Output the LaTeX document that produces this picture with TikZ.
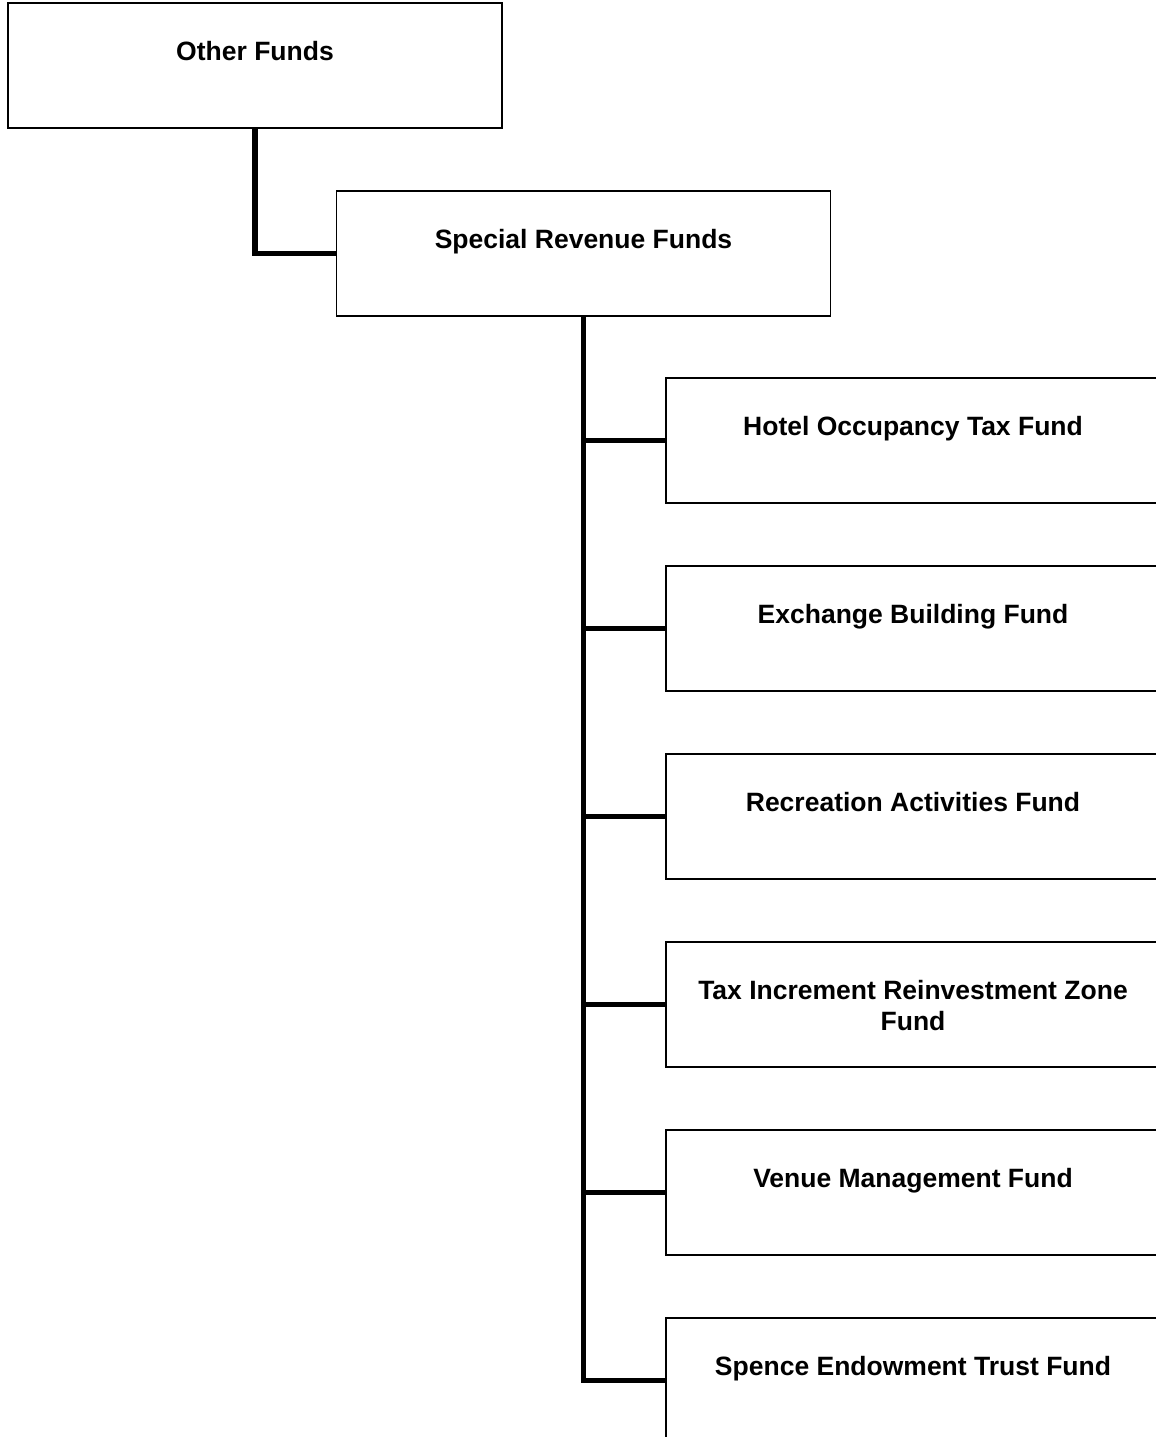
\documentclass[tikz,border=0pt]{standalone}
\usepackage{fontspec}
\setmainfont{Liberation Sans}
\begin{document}
\begin{tikzpicture}[x=1pt,y=-1pt,
  box/.style={draw=black,line width=1.8pt,fill=white,minimum width=494pt,minimum height=125pt,inner sep=0pt},
  lbl/.style={font=\fontsize{26.5}{31.5}\selectfont\bfseries,align=center,inner sep=0pt,anchor=base},
  conn/.style={line width=5.5pt,line cap=butt,line join=miter}]
\useasboundingbox (0,0) rectangle (1156,1437);
\clip (0,0) rectangle (1156,1437);
\fill[white] (0,0) rectangle (1156,1437);
\node[box] (of) at (255,65.5) {};
\node[box] (srf) at (583.5,253.5) {};
\node[box] (c1) at (913,440.5) {};
\node[box] (c2) at (913,628.5) {};
\node[box] (c3) at (913,816.5) {};
\node[box] (c4) at (913,1004.5) {};
\node[box] (c5) at (913,1192.5) {};
\node[box] (c6) at (913,1380.5) {};
\draw[conn] (of.south) |- (srf.west);
\draw[conn] (srf.south) |- (c6.west);
\foreach \c in {c1,c2,c3,c4,c5}{
  \draw[conn] (srf.south |- \c.west) -- (\c.west);
}
\node[lbl] (tof) at ([yshift=-58.5pt]of.north) {Other Funds};
\node[lbl] (tsrf) at ([yshift=-58.5pt]srf.north) {Special Revenue Funds};
\node[lbl] (t1) at ([yshift=-58.5pt]c1.north) {Hotel Occupancy Tax Fund};
\node[lbl] (t2) at ([yshift=-58.5pt]c2.north) {Exchange Building Fund};
\node[lbl] (t3) at ([yshift=-58.5pt]c3.north) {Recreation Activities Fund};
\node[lbl,anchor=north] (t4) at ([yshift=-38.5pt]c4.north) {Tax Increment Reinvestment Zone\\Fund};
\node[lbl] (t5) at ([yshift=-58.5pt]c5.north) {Venue Management Fund};
\node[lbl] (t6) at ([yshift=-58.5pt]c6.north) {Spence Endowment Trust Fund};
\end{tikzpicture}
\end{document}
